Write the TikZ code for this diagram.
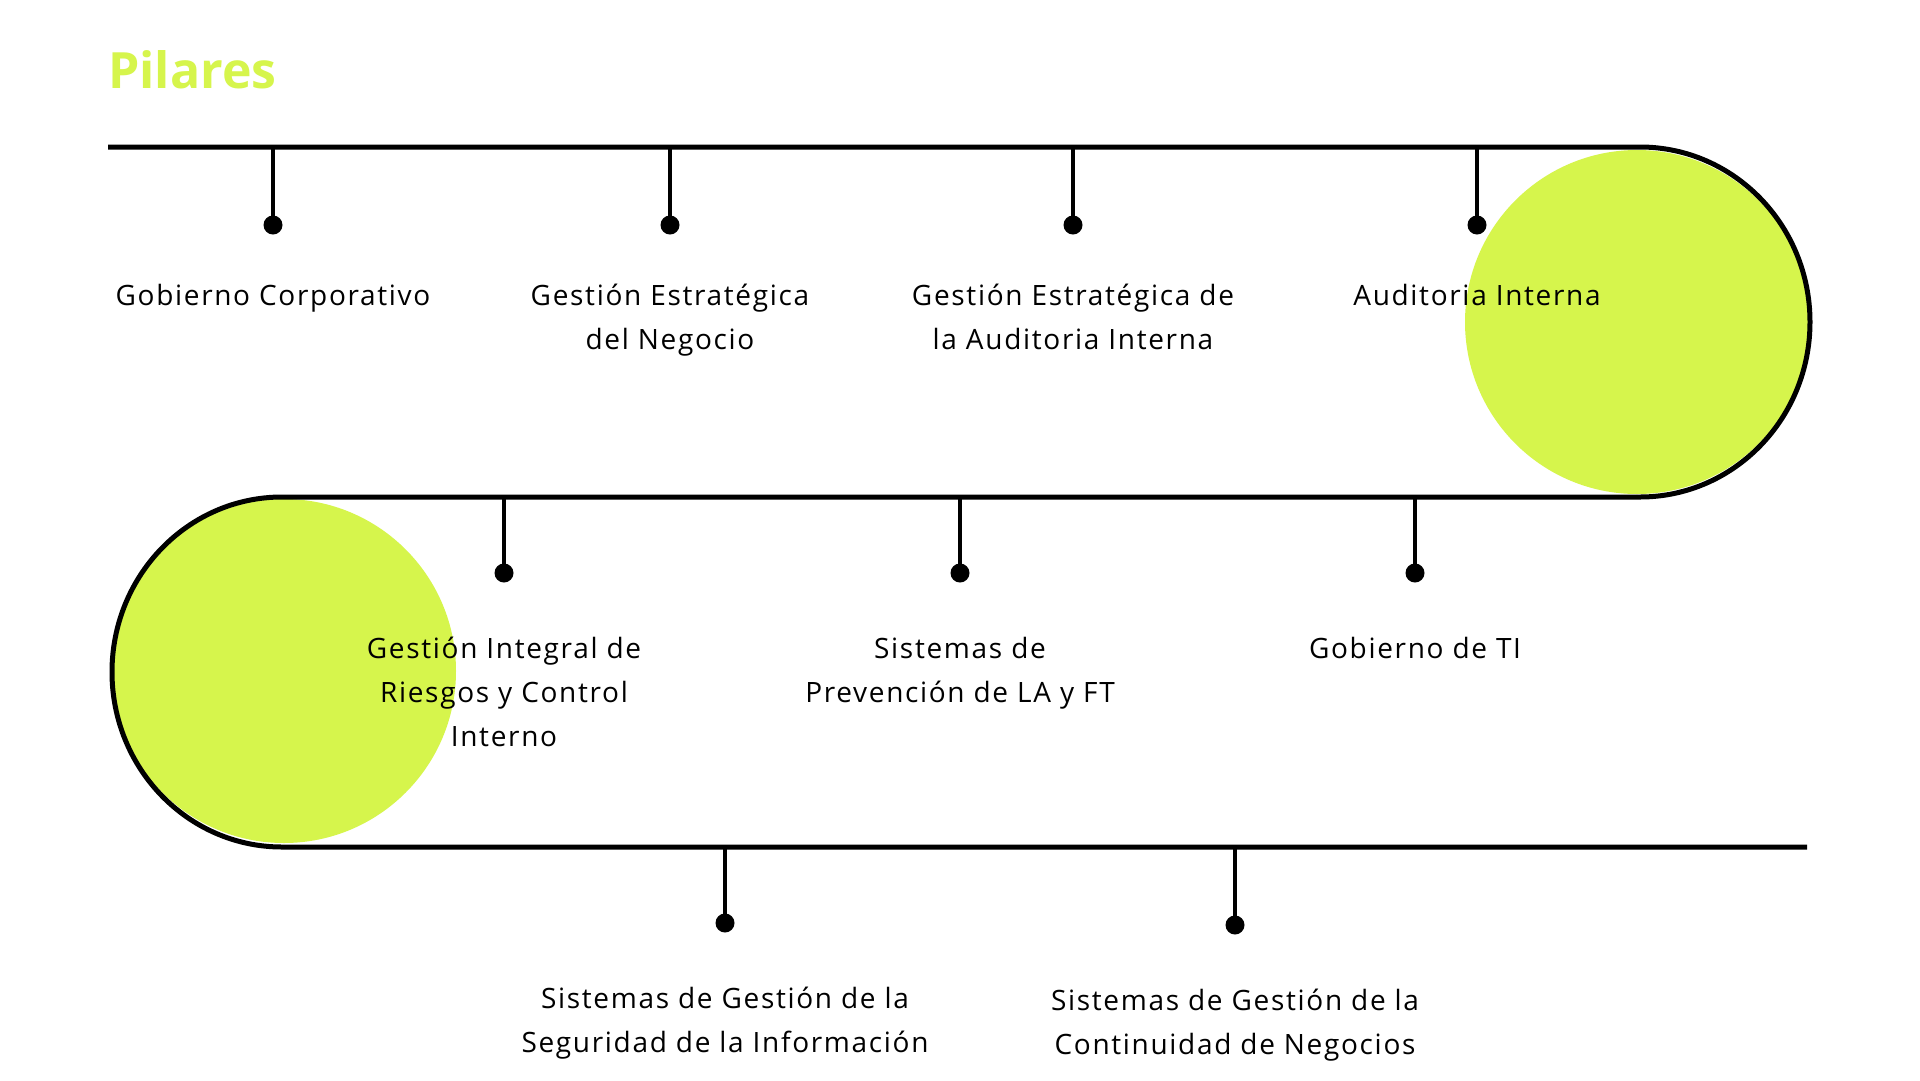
\documentclass[tikz,border=0pt]{standalone}
\usepackage{fontspec}
\setmainfont[LetterSpace=6]{Open Sans}
\newfontfamily\titlefont{Open Sans}
\usetikzlibrary{positioning}
\definecolor{lime}{HTML}{D6F54C}
\tikzset{
  track/.style={line width=5pt},
  stem/.style={line width=4.5pt},
  pindot/.style={circle, fill=black, inner sep=0pt, minimum size=19pt},
  pilar/.style={align=center, inner sep=0pt, font=\fontsize{28}{44}\selectfont},
  blob/.style={fill=lime, draw=none}
}
\begin{document}
\begin{tikzpicture}[x=1pt, y=-1pt, node distance=70.5pt]
    \fill[white] (0,0) rectangle (1920,1080);
    \useasboundingbox (0,0) rectangle (1920,1080);
    % Background circles
    \fill[blob] (1637,322) circle[radius=172];
    \fill[blob] (284,671) circle[radius=172];
    % Title
    \node[anchor=base west, inner sep=0pt, text=lime, font=\titlefont\bfseries\fontsize{50}{54}\selectfont] (title) at (108,88) {Pilares};
    % Track
    \draw[track] (108,147) -- (1640,147) arc[start angle=-90, end angle=90, x radius=170, y radius=175]
        -- (282,497) arc[start angle=270, end angle=90, x radius=170, y radius=175] -- (1807,847);
    % Points on the track
    \coordinate (t1) at (273,147);
    \coordinate (t2) at (670,147);
    \coordinate (t3) at (1073,147);
    \coordinate (t4) at (1477,147);
    \coordinate (t5) at (504,497);
    \coordinate (t6) at (960,497);
    \coordinate (t7) at (1415,497);
    \coordinate (t8) at (725,847);
    \coordinate (t9) at (1235,847);
    % Dots
    \node[pindot] (d1) at (273,225) {};
    \node[pindot] (d2) at (670,225) {};
    \node[pindot] (d3) at (1073,225) {};
    \node[pindot] (d4) at (1477,225) {};
    \node[pindot] (d5) at (504,573) {};
    \node[pindot] (d6) at (960,573) {};
    \node[pindot] (d7) at (1415,573) {};
    \node[pindot] (d8) at (725,923) {};
    \node[pindot] (d9) at (1235,925) {};
    % Stems
    \draw[stem] (t1) -- (d1.center);
    \draw[stem] (t2) -- (d2.center);
    \draw[stem] (t3) -- (d3.center);
    \draw[stem] (t4) -- (d4.center);
    \draw[stem] (t5) -- (d5.center);
    \draw[stem] (t6) -- (d6.center);
    \draw[stem] (t7) -- (d7.center);
    \draw[stem] (t8) -- (d8.center);
    \draw[stem] (t9) -- (d9.center);
    % Labels (anchored at the base of their last line)
    \node[below=of d1, anchor=base, pilar] (gob) {Gobierno Corporativo};
    \node[below=114.5pt of d2, anchor=base, pilar] (est) {Gestión Estratégica\\del Negocio};
    \node[below=114.5pt of d3, anchor=base, pilar] (estai) {Gestión Estratégica de\\la Auditoria Interna};
    \node[below=of d4, anchor=base, pilar] (ai) {Auditoria Interna};
    \node[below=163.5pt of d5, anchor=base, pilar] (riesgos) {Gestión Integral de\\Riesgos y Control\\Interno};
    \node[below=119.5pt of d6, anchor=base, pilar] (prev) {Sistemas de\\Prevención de LA y FT};
    \node[below=75.5pt of d7, anchor=base, pilar] (ti) {Gobierno de TI};
    \node[below=119.5pt of d8, anchor=base, pilar] (seg) {Sistemas de Gestión de la\\Seguridad de la Información};
    \node[below=119.5pt of d9, anchor=base, pilar] (cont) {Sistemas de Gestión de la\\Continuidad de Negocios};
\end{tikzpicture}
\end{document}
